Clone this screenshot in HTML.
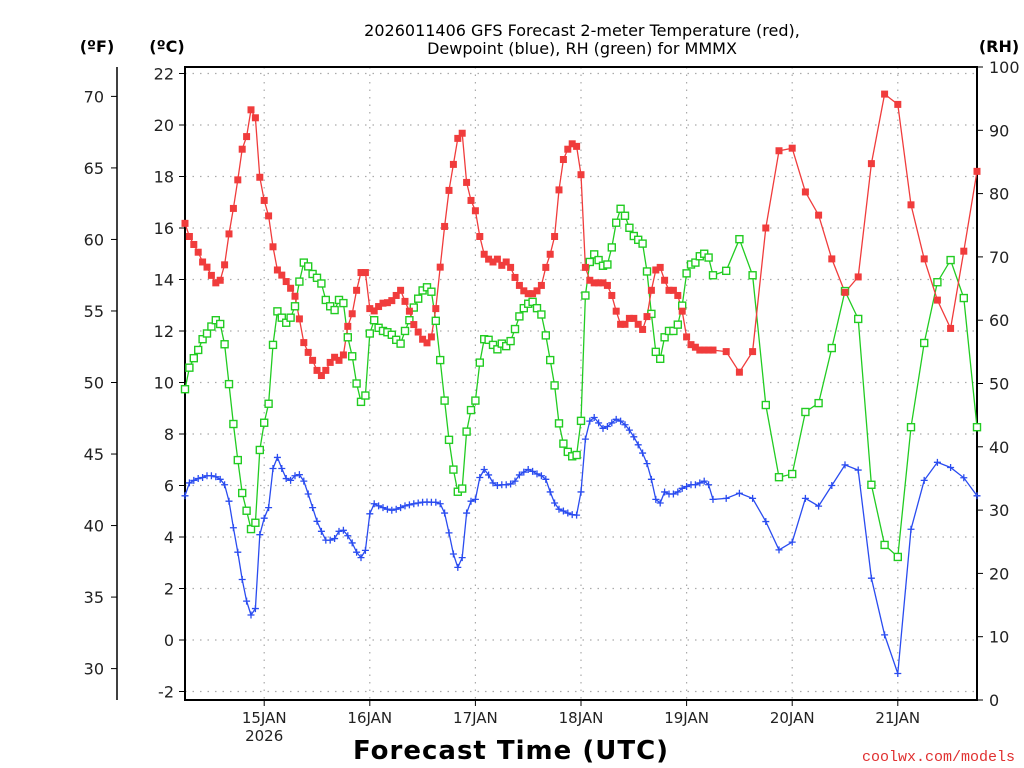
<!DOCTYPE html>
<html><head><meta charset="utf-8"><style>
html,body{margin:0;padding:0;background:#fff;}
svg{display:block;font-family:"DejaVu Sans","Liberation Sans",sans-serif;}
</style></head><body>
<svg id="chart" width="1024" height="768" viewBox="0 0 1024 768" xmlns="http://www.w3.org/2000/svg">
<text x="582" y="36" font-size="16" text-anchor="middle" fill="#000">2026011406 GFS Forecast 2-meter Temperature (red),</text>
<text x="582" y="54" font-size="16" text-anchor="middle" fill="#000">Dewpoint (blue), RH (green) for MMMX</text>
<text x="97" y="52" font-size="16" font-weight="bold" text-anchor="middle">(ºF)</text>
<text x="167" y="52" font-size="16" font-weight="bold" text-anchor="middle">(ºC)</text>
<text x="999" y="52" font-size="16" font-weight="bold" text-anchor="middle">(RH)</text>
<text x="511" y="759" font-size="26" font-weight="bold" text-anchor="middle" letter-spacing="1">Forecast Time (UTC)</text>
<text x="1015" y="761" font-size="15" text-anchor="end" fill="#e03030" font-family="Liberation Mono, monospace">coolwx.com/models</text>
<g id="grid"></g><g id="axes"></g><g id="series"></g>
</svg>
<script>
// ---- data ----
const dayLabels = ["15JAN","16JAN","17JAN","18JAN","19JAN","20JAN","21JAN"];
const dayHours = [18,42,66,90,114,138,162];
const cTicks = [22,20,18,16,14,12,10,8,6,4,2,0,-2];
const fTicks = [70,65,60,55,50,45,40,35,30];
const rhTicks = [100,90,80,70,60,50,40,30,20,10,0];
const hourlyTemp = [16.18,15.67,15.36,15.06,14.68,14.48,14.16,13.87,13.97,14.57,15.77,16.76,17.87,19.06,19.55,20.59,20.28,17.97,17.07,16.47,15.27,14.37,14.17,13.92,13.66,13.35,12.47,11.55,11.17,10.86,10.47,10.27,10.47,10.78,10.98,10.86,11.07,12.18,12.67,13.58,14.27,14.27,
12.87,12.78,12.95,13.08,13.10,13.18,13.38,13.58,13.15,12.77,12.25,11.96,11.68,11.54,11.77,12.87,14.48,16.06,17.46,18.47,19.48,19.68,17.77,17.07,16.67,15.67,14.98,14.79,14.68,14.79,14.55,14.68,14.47,14.08,13.77,13.56,13.45,13.45,13.56,13.77,14.47,14.98,15.67,
17.48,18.66,19.06,19.27,19.17,18.07,14.47,13.97,13.87,13.87,13.87,13.77,13.38,12.77,12.26,12.26,12.49,12.49,12.26,12.06,12.56,13.58,14.37,14.47,13.97,13.58,13.58,13.38,12.77,11.77,11.47,11.37,11.26,11.26,11.26,11.26];
const hourlyDew = [5.60,6.10,6.20,6.27,6.31,6.38,6.38,6.34,6.24,6.03,5.39,4.36,3.41,2.35,1.51,0.97,1.22,4.09,4.73,5.14,6.66,7.09,6.66,6.27,6.20,6.38,6.42,6.17,5.67,5.14,4.61,4.22,3.88,3.88,3.94,4.22,4.26,4.05,3.77,3.41,3.20,3.48,
4.90,5.29,5.21,5.14,5.08,5.04,5.08,5.14,5.21,5.25,5.29,5.32,5.35,5.36,5.35,5.35,5.29,4.93,4.16,3.34,2.82,3.20,4.93,5.39,5.46,6.31,6.62,6.41,6.10,6.00,6.03,6.03,6.06,6.17,6.41,6.52,6.62,6.55,6.45,6.38,6.24,5.75,5.32,
5.08,5.01,4.93,4.87,4.85,5.75,7.80,8.50,8.64,8.43,8.22,8.29,8.43,8.57,8.50,8.36,8.15,7.89,7.58,7.26,6.85,6.24,5.46,5.32,5.75,5.67,5.67,5.75,5.89,5.96,6.03,6.03,6.10,6.17,6.03,5.46];
const hourlyRH = [49.1,52.5,54.0,55.3,57.0,57.9,59.0,60.0,59.4,56.2,49.9,43.6,37.9,32.7,29.9,27.0,28.0,39.5,43.8,46.8,56.1,61.4,60.4,59.6,60.4,62.2,66.1,69.1,68.5,67.3,66.7,65.8,63.2,62.2,61.6,63.2,62.7,57.3,54.3,50.0,47.1,48.1,
57.9,60.0,58.8,58.3,58.1,57.7,56.9,56.3,58.3,60.0,62.0,63.4,64.7,65.2,64.5,59.9,53.7,47.3,41.1,36.4,32.9,33.4,42.4,45.8,47.3,53.3,57.0,56.9,56.1,55.4,56.3,55.9,56.7,58.6,60.6,61.9,62.6,62.9,61.9,60.9,57.6,53.7,49.7,
43.7,40.5,39.2,38.5,38.7,44.1,63.9,69.2,70.4,69.5,68.6,68.8,71.5,75.4,77.6,76.5,74.6,73.3,72.7,72.1,67.7,61.0,55.0,53.9,57.3,58.3,58.3,59.3,62.3,67.4,68.8,69.1,70.1,70.5,69.9,67.1];
const threeHourlyTemp = [11.2,10.4,11.2,16.0,19.0,19.1,17.4,16.5,14.8,13.5,14.1,18.5,21.2,20.8,16.9,14.8,13.2,12.1,15.1,18.2];
const threeHourlyDew = [5.5,5.7,5.5,4.6,3.5,3.8,5.5,5.2,6.0,6.8,6.6,2.4,0.2,-1.3,4.3,6.2,6.9,6.7,6.3,5.6];
const threeHourlyRH = [67.8,72.8,67.1,46.6,35.2,35.7,45.5,46.9,55.6,64.6,60.2,34.0,24.5,22.6,43.1,56.4,66.0,69.5,63.5,43.1];

// ---- scales ----
const X0=185, X1=977, Y0=67, Y1=700;
const xOf = h => X0 + (X1-X0)*h/180;
const yC = c => 640 - 25.75*c;
const yF = f => yC((f-32)*5/9);
const yRH = r => Y1 - (Y1-Y0)*r/100;
const NS="http://www.w3.org/2000/svg";
function mk(tag, parent, attrs){const e=document.createElementNS(NS,tag);for(const k in attrs)e.setAttribute(k,attrs[k]);parent.appendChild(e);return e;}
const grid=document.getElementById('grid'), axes=document.getElementById('axes'), series=document.getElementById('series');

const hours=[]; for(let i=0;i<hourlyTemp.length;i++) hours.push(i);
for(let i=0;i<threeHourlyTemp.length;i++) hours.push(123+3*i);
const temp=hourlyTemp.concat(threeHourlyTemp), dew=hourlyDew.concat(threeHourlyDew), rh=hourlyRH.concat(threeHourlyRH);

// grid
cTicks.forEach(c=>{const l=mk('line',grid,{x1:X0,x2:X1,y1:yC(c),y2:yC(c),stroke:'#aaa','stroke-width':1.2,'stroke-dasharray':'1.5 6'});

});
dayHours.forEach(h=>{const l=mk('line',grid,{x1:xOf(h),x2:xOf(h),y1:Y0,y2:Y1,stroke:'#aaa','stroke-width':1.2,'stroke-dasharray':'1.5 6'});

});

// frame
const fr=mk('rect',axes,{x:X0,y:Y0,width:X1-X0,height:Y1-Y0,fill:'none',stroke:'#000','stroke-width':2});


const fl=mk('line',axes,{x1:117,x2:117,y1:Y0,y2:Y1,stroke:'#000','stroke-width':1.5});



cTicks.forEach(c=>{mk('line',axes,{x1:X0-6,x2:X0,y1:yC(c),y2:yC(c),stroke:'#000','stroke-width':1});
const t=mk('text',axes,{x:X0-11,y:yC(c)+6,'font-size':16,'text-anchor':'end',fill:'#222'});t.textContent=c;

});
fTicks.forEach(f=>{mk('line',axes,{x1:111,x2:117,y1:yF(f),y2:yF(f),stroke:'#000','stroke-width':1});
const t=mk('text',axes,{x:104,y:yF(f)+6,'font-size':16,'text-anchor':'end',fill:'#222'});t.textContent=f;

});
rhTicks.forEach(r=>{mk('line',axes,{x1:X1,x2:X1+6,y1:yRH(r),y2:yRH(r),stroke:'#000','stroke-width':1});
const t=mk('text',axes,{x:X1+12,y:yRH(r)+6,'font-size':16,'text-anchor':'start',fill:'#222'});t.textContent=r;

});
dayHours.forEach((h,i)=>{mk('line',axes,{x1:xOf(h),x2:xOf(h),y1:Y1,y2:Y1+6,stroke:'#000','stroke-width':1});
const t=mk('text',axes,{x:xOf(h),y:723,'font-size':15,'text-anchor':'middle',fill:'#222'});t.textContent=dayLabels[i];

});
const yr=mk('text',axes,{x:xOf(18),y:741,'font-size':15,'text-anchor':'middle',fill:'#222'});yr.textContent='2026';



function drawLine(vals,yfn,color,name){
  const pts=vals.map((v,i)=>xOf(hours[i]).toFixed(1)+','+yfn(v).toFixed(1)).join(' ');
  const p=mk('polyline',series,{points:pts,fill:'none',stroke:color,'stroke-width':1.3});
  
  
}
drawLine(rh,yRH,'#22cc22','rh');
drawLine(temp,yC,'#f03c3c','temperature');
drawLine(dew,yC,'#2a4cf0','dewpoint');
rh.forEach((v,i)=>{const m=mk('rect',series,{x:xOf(hours[i])-3.5,y:yRH(v)-3.5,width:7,height:7,fill:'#fff',stroke:'#22cc22','stroke-width':1.4});

});
temp.forEach((v,i)=>{const m=mk('rect',series,{x:xOf(hours[i])-3.5,y:yC(v)-3.5,width:7,height:7,fill:'#f03c3c'});

});
dew.forEach((v,i)=>{const x=xOf(hours[i]),y=yC(v);const m=mk('path',series,{d:`M${x-3.5},${y}H${x+3.5}M${x},${y-3.5}V${y+3.5}`,stroke:'#2a4cf0','stroke-width':1.3});

});
</script>
</body></html>
